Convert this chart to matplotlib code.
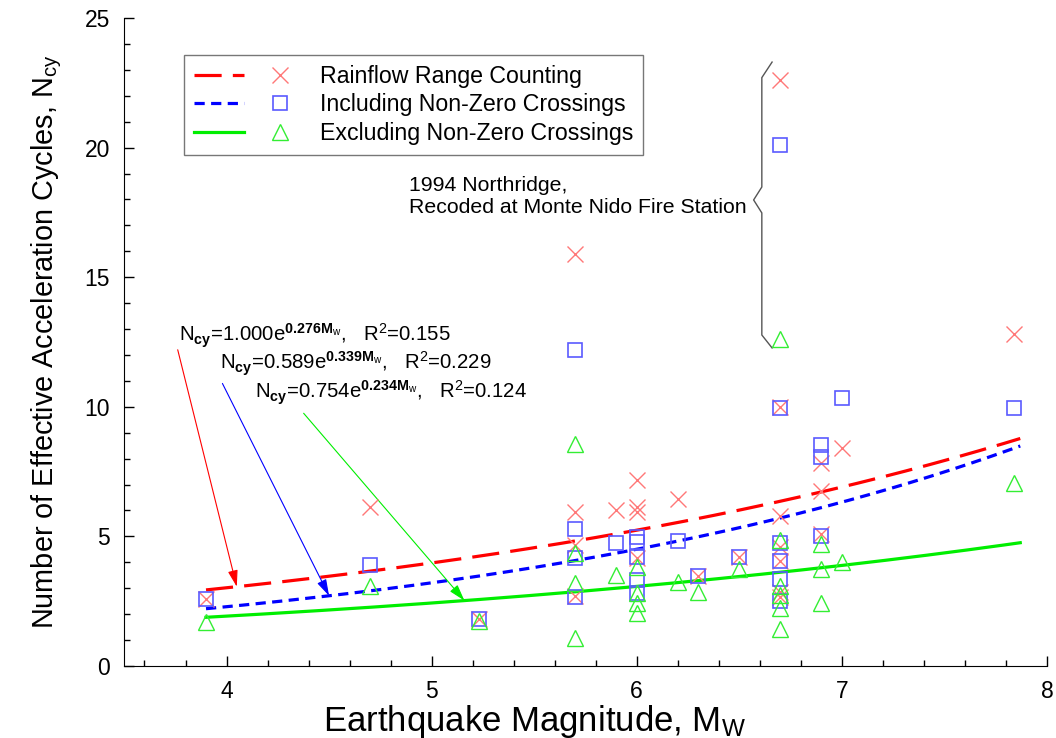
import numpy as np
import matplotlib
matplotlib.use("Agg")
import matplotlib.pyplot as plt
from matplotlib.legend_handler import HandlerTuple

plt.rcParams['font.family'] = ['Liberation Sans', 'DejaVu Sans']
plt.rcParams['mathtext.fontset'] = 'custom'
plt.rcParams['mathtext.rm'] = 'Liberation Sans'
plt.rcParams['mathtext.it'] = 'Liberation Sans:italic'
plt.rcParams['mathtext.bf'] = 'Liberation Sans:bold'

# magnitude / cycle counts for each counting method
mw_rain = [3.9, 4.7, 5.23, 5.7, 5.7, 5.7, 5.7, 5.9, 6.0, 6.0, 6.0, 6.0, 6.2, 6.3, 6.5,
           6.7, 6.7, 6.7, 6.7, 6.7, 6.7, 6.7, 6.9, 6.9, 6.9, 7.0, 7.84]
n_rain = [2.6, 6.15, 1.8, 15.9, 5.95, 4.67, 2.71, 6.0, 7.18, 6.15, 5.95, 4.16, 6.44, 3.47, 4.22,
          22.6, 10.0, 5.8, 4.6, 4.05, 2.87, 2.67, 7.82, 6.77, 5.1, 8.4, 12.8]

mw_incl = [3.9, 4.7, 5.23, 5.7, 5.7, 5.7, 5.7, 5.9, 6.0, 6.0, 6.0, 6.0, 6.0, 6.2, 6.3, 6.5,
           6.7, 6.7, 6.7, 6.7, 6.7, 6.7, 6.9, 6.9, 6.9, 7.0, 7.84]
n_incl = [2.6, 3.9, 1.8, 12.2, 5.29, 4.16, 2.67, 4.76, 4.99, 4.77, 4.2, 3.32, 2.8, 4.82, 3.47, 4.22,
          20.1, 9.95, 4.73, 4.05, 3.34, 2.52, 8.53, 8.08, 5.03, 10.35, 9.95]

mw_excl = [3.9, 4.7, 5.23, 5.7, 5.7, 5.7, 5.7, 5.9, 6.0, 6.0, 6.0, 6.0, 6.2, 6.3, 6.5,
           6.7, 6.7, 6.7, 6.7, 6.7, 6.7, 6.9, 6.9, 6.9, 7.0, 7.84]
n_excl = [1.7, 3.1, 1.75, 8.56, 4.35, 3.2, 1.07, 3.5, 3.83, 2.8, 2.42, 2.04, 3.25, 2.87, 3.73,
          12.6, 4.86, 3.09, 2.74, 2.22, 1.41, 4.7, 3.74, 2.42, 4.03, 7.07]

# exponential fits N = a * exp(b * Mw)
fit_a = [1.000, 0.589, 0.754]
fit_b = [0.276, 0.339, 0.234]
fit_r2 = [0.155, 0.229, 0.124]
fit_range = (3.9, 7.87)

labels = ["Rainflow Range Counting", "Including Non-Zero Crossings", "Excluding Non-Zero Crossings"]

fig = plt.figure(figsize=(10.56, 7.38), dpi=100)
ax = fig.add_axes([0.1174, 0.0976, 0.874, 0.878])

m = np.linspace(fit_range[0], fit_range[1], 200)
l_red, = ax.plot(m, fit_a[0] * np.exp(fit_b[0] * m), color='red', lw=2.3,
                 linestyle=(0, (8.5, 3.5)), zorder=3)
l_blue, = ax.plot(m, fit_a[1] * np.exp(fit_b[1] * m), color='blue', lw=2.3,
                  linestyle=(0, (3.2, 2)), zorder=3)
l_green, = ax.plot(m, fit_a[2] * np.exp(fit_b[2] * m), color='#00ee00', lw=2.3,
                   linestyle='-', zorder=3)

mk_red, = ax.plot(mw_rain, n_rain, 'x', ms=11, mew=1.0, color='#ff7878', zorder=4)
mk_blue, = ax.plot(mw_incl, n_incl, 's', ms=10, mew=1.2, mfc='none', mec='#5a5aff', zorder=4)
mk_green, = ax.plot(mw_excl, n_excl, '^', ms=11, mew=1.0, mfc='none', mec='#33ee33', zorder=4)

ax.set_xlim(3.5, 8)
ax.set_ylim(0, 25)
ax.set_xticks([4, 5, 6, 7, 8])
ax.set_xticks(np.arange(3.6, 8.0, 0.2), minor=True)
ax.set_yticks([0, 5, 10, 15, 20, 25])
ax.set_yticks(np.arange(0, 25, 1), minor=True)
ax.tick_params(which='both', direction='in', labelsize=16.5, width=1.0)
ax.tick_params(which='major', length=7, pad=10)
ax.tick_params(which='minor', length=4)
ax.spines['top'].set_visible(False)
ax.spines['right'].set_visible(False)

ax.set_xlabel("Earthquake Magnitude, M$_\\mathrm{W}$", fontsize=25, labelpad=0)
ax.xaxis.label.set_x(0.445)
ax.set_ylabel("Number of Effective Acceleration Cycles, N$_\\mathrm{cy}$", fontsize=20.8, labelpad=15)

leg = ax.legend([(l_red, mk_red), (l_blue, mk_blue), (l_green, mk_green)], labels,
                handler_map={tuple: HandlerTuple(ndivide=2, pad=0.5)},
                loc='upper left', bbox_to_anchor=(0.065, 0.943), borderaxespad=0,
                fontsize=16.7, handlelength=4.8, handletextpad=0.65, labelspacing=0.25,
                borderpad=0.42, fancybox=False, framealpha=1)
leg.get_frame().set_edgecolor('#777777')
leg.get_frame().set_linewidth(1.0)

# fit equations with arrows pointing to each curve
eq_pos = [(3.77, 12.75), (3.97, 11.65), (4.14, 10.55)]
arrow_from = [(3.762, 12.2), (3.98, 10.9), (4.376, 9.75)]
arrow_to = [4.05, 4.50, 5.16]
arrow_col = ['red', 'blue', '#00ee00']
for i in range(3):
    txt = ("N$_\\mathbf{cy}$=%.3fe$^{\\mathbf{%.3fM}_\\mathrm{w}}$,   R$^\\mathrm{2}$=%.3f"
           % (fit_a[i], fit_b[i], fit_r2[i]))
    ax.text(eq_pos[i][0], eq_pos[i][1], txt, fontsize=14.7, ha='left', va='center')
    xt = arrow_to[i]
    yt = fit_a[i] * np.exp(fit_b[i] * xt)
    ax.annotate("", xy=(xt, yt), xytext=arrow_from[i],
                arrowprops=dict(arrowstyle='-|>,head_length=1.0,head_width=0.3',
                                color=arrow_col[i], lw=0.8, shrinkA=0, shrinkB=0))

# brace marking the Northridge record
bx, btip, bpoint = 6.61, 6.66, 6.57
by_top, by_bot, by_mid = 23.3, 12.27, 17.98
brace_x = [btip, bx, bx, bpoint, bx, bx, btip]
brace_y = [by_top, by_top - 0.6, by_mid + 0.5, by_mid, by_mid - 0.5, by_bot + 0.5, by_bot]
ax.plot(brace_x, brace_y, color='#555555', lw=1.0, zorder=2)
ax.text(4.89, 18.1, "1994 Northridge,\nRecoded at Monte Nido Fire Station",
        fontsize=15.3, ha='left', va='center', linespacing=1.2)

fig.savefig("out.png", dpi=100)
